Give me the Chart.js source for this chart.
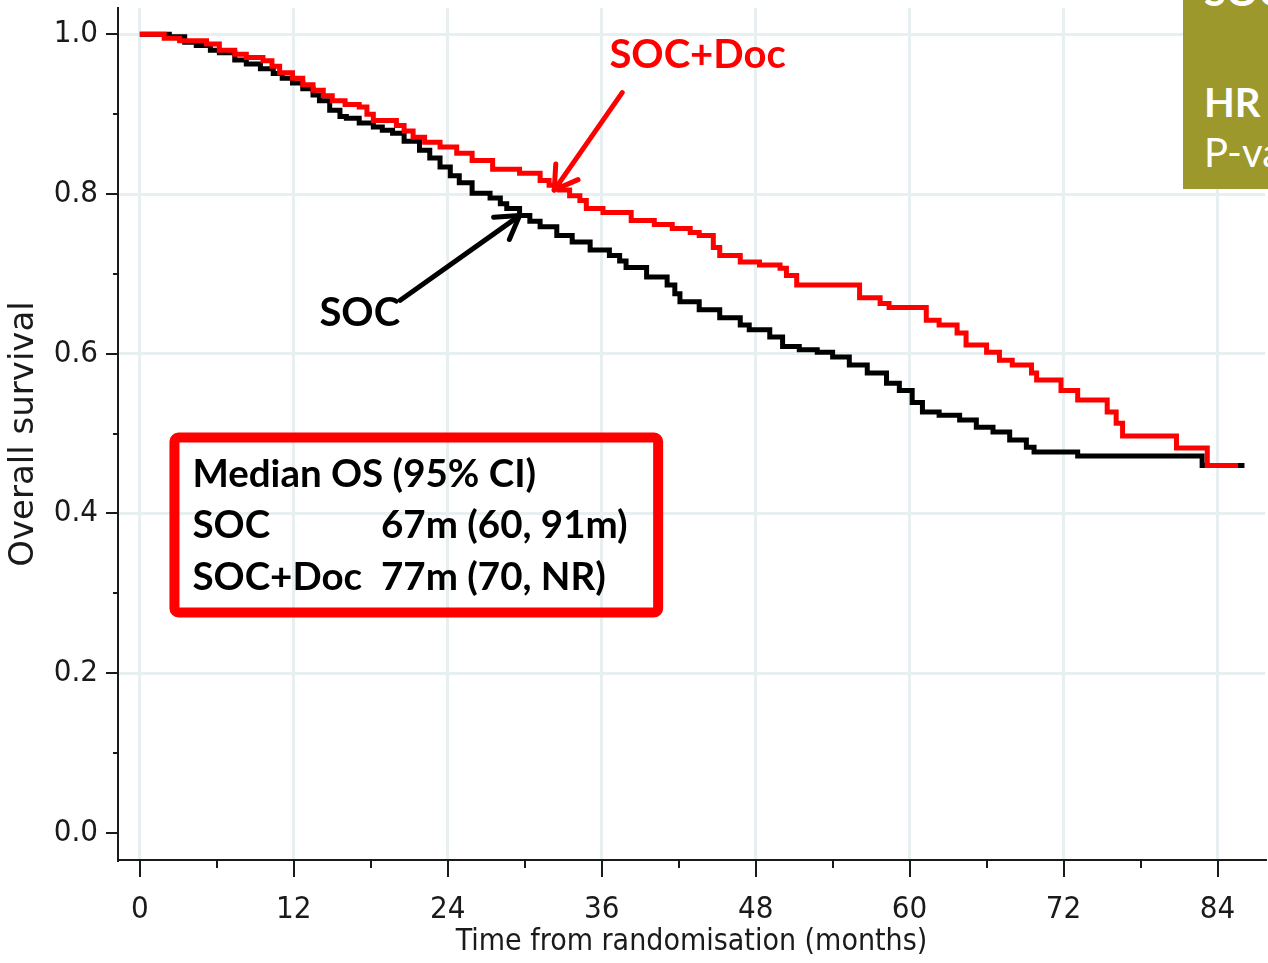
<!DOCTYPE html>
<html>
<head>
<meta charset="utf-8">
<script src="https://cdn.jsdelivr.net/npm/chart.js@4.4.1/dist/chart.umd.min.js"></script>
<style>
  html, body { margin: 0; padding: 0; background: #fff; }
  #wrap { position: relative; width: 1268px; height: 963px; overflow: hidden; }
  #hrbox { position: absolute; left: 1183px; top: 0; width: 85px; height: 189px;
           background: #9c982c; color: #fff; font-family: Lato, sans-serif; overflow: hidden; }
  #hrbox div { position: absolute; left: 21px; white-space: nowrap; font-size: 40px; line-height: 48px; }
</style>
</head>
<body>
<div id="wrap">
  <canvas id="km-chart" width="1268" height="963"></canvas>
  <div id="hrbox">
    <div style="top:-33px;font-weight:bold;">SOC+Doc vs SOC</div>
    <div style="top:78px;font-weight:bold;">HR (95% CI)</div>
    <div style="top:128px;">P-value</div>
  </div>
</div>
<script>
// Tempo (meses) e sobrevida - SOC (preto)
const socTime = [0, 2.3, 3.5, 4.4, 5.5, 6.2, 7.4, 8.3, 9.4, 10.4, 11.1, 11.9, 12.7, 13.5, 14.0,
  14.8, 15.6, 16.1, 17.1, 18.2, 18.9, 19.7, 20.6, 21.8, 22.6, 23.4, 24.2, 24.9, 25.9, 27.3,
  28.1, 28.6, 29.6, 30.4, 31.2, 32.5, 33.7, 35.1, 36.6, 37.4, 37.9, 39.5, 41.1, 41.7, 42.1,
  43.6, 45.2, 46.8, 47.5, 49.1, 50.1, 51.4, 52.8, 54.0, 55.3, 56.7, 58.2, 59.2, 60.2, 61.0,
  62.3, 63.9, 65.2, 66.5, 67.8, 69.1, 69.7, 73.1, 82.8, 86.1];
const socSurv = [1.0, 0.997, 0.99, 0.986, 0.98, 0.977, 0.968, 0.963, 0.957, 0.951, 0.945, 0.939, 0.932, 0.924, 0.917,
  0.905, 0.897, 0.895, 0.889, 0.884, 0.88, 0.876, 0.866, 0.855, 0.845, 0.834, 0.823, 0.814, 0.801, 0.795,
  0.788, 0.782, 0.773, 0.766, 0.759, 0.748, 0.74, 0.73, 0.723, 0.716, 0.708, 0.696, 0.686, 0.675, 0.665,
  0.655, 0.645, 0.636, 0.63, 0.621, 0.609, 0.605, 0.602, 0.596, 0.586, 0.576, 0.563, 0.554, 0.539, 0.527,
  0.523, 0.517, 0.508, 0.502, 0.492, 0.483, 0.477, 0.472, 0.46, 0.46];

// SOC+Doc (vermelho)
const docTime = [0, 1.9, 3.1, 5.2, 6.2, 7.4, 8.3, 9.6, 10.3, 10.9, 11.9, 12.7, 13.5, 14.3, 15.0,
  16.0, 17.1, 17.7, 18.2, 20.0, 20.6, 21.3, 22.2, 23.4, 24.7, 25.9, 27.5, 29.6, 31.2, 31.9,
  32.7, 33.5, 34.3, 34.8, 36.1, 38.3, 40.1, 41.5, 42.9, 43.6, 44.7, 45.2, 46.8, 48.3, 49.9,
  50.4, 51.2, 56.1, 57.7, 58.4, 61.3, 62.3, 63.7, 64.4, 66.0, 67.0, 68.0, 69.5, 69.9, 71.8,
  73.1, 75.4, 76.1, 76.6, 80.8, 83.2, 85.6];
const docSurv = [1.0, 0.995, 0.992, 0.988, 0.98, 0.975, 0.971, 0.967, 0.96, 0.952, 0.945, 0.937, 0.93, 0.923, 0.917,
  0.912, 0.909, 0.9, 0.892, 0.886, 0.879, 0.871, 0.865, 0.859, 0.851, 0.842, 0.831, 0.826, 0.817, 0.811,
  0.805, 0.798, 0.792, 0.782, 0.777, 0.767, 0.762, 0.757, 0.752, 0.748, 0.733, 0.723, 0.715, 0.711, 0.707,
  0.698, 0.686, 0.67, 0.663, 0.658, 0.642, 0.636, 0.626, 0.611, 0.602, 0.592, 0.586, 0.576, 0.567, 0.554,
  0.542, 0.527, 0.513, 0.497, 0.482, 0.46, 0.46];

// Marcas dos eixos (maiores com rótulo, menores sem)
const xTicks = [0, 6, 12, 18, 24, 30, 36, 42, 48, 54, 60, 66, 72, 78, 84];
const yTicks = [0, 0.1, 0.2, 0.3, 0.4, 0.5, 0.6, 0.7, 0.8, 0.9, 1.0];

// Textos da caixa de mediana
const medianRows = [
  ['Median OS (95% CI)', ''],
  ['SOC', '67m (60, 91m)'],
  ['SOC+Doc', '77m (70, NR)']
];

const GRID = '#e8eff1';
const AXIS = '#1a1a1a';
const isMajorX = v => v % 12 === 0;
const isMajorY = v => Math.round(v * 10) % 2 === 0;

function drawArrow(ctx, x0, y0, x1, y1, color) {
    const a = Math.atan2(y1 - y0, x1 - x0), h = 26, s = 0.55;
    ctx.save();
    ctx.strokeStyle = color;
    ctx.lineWidth = 5;
    ctx.lineCap = 'round';
    ctx.lineJoin = 'round';
    ctx.beginPath();
    ctx.moveTo(x0, y0);
    ctx.lineTo(x1, y1);
    ctx.stroke();
    ctx.beginPath();
    ctx.moveTo(x1 - h * Math.cos(a - s), y1 - h * Math.sin(a - s));
    ctx.lineTo(x1, y1);
    ctx.lineTo(x1 - h * Math.cos(a + s), y1 - h * Math.sin(a + s));
    ctx.stroke();
    ctx.restore();
}

// Plugin: marcas dos eixos, setas, rótulos e caixa de mediana
const kmExtras = {
    id: 'kmExtras',
    afterDraw(chart) {
        const { ctx } = chart;
        const x = chart.scales.x, y = chart.scales.y;
        const px = v => x.getPixelForValue(v), py = v => y.getPixelForValue(v);

        // marcas dos eixos
        ctx.save();
        ctx.strokeStyle = AXIS;
        ctx.lineWidth = 2;
        ctx.beginPath();
        xTicks.forEach(v => {
            const p = Math.round(px(v));
            ctx.moveTo(p, x.top);
            ctx.lineTo(p, x.top + (isMajorX(v) ? 17 : 8));
        });
        yTicks.forEach(v => {
            const p = Math.round(py(v));
            ctx.moveTo(y.right - (isMajorY(v) ? 12 : 5), p);
            ctx.lineTo(y.right, p);
        });
        ctx.stroke();
        ctx.restore();

        // setas
        drawArrow(ctx, px(37.6), py(0.927), px(32.3), py(0.805), '#ff0000');
        drawArrow(ctx, px(20.3), py(0.667), px(29.6), py(0.773), '#000000');

        // rótulos das curvas
        ctx.save();
        ctx.textBaseline = 'middle';
        ctx.textAlign = 'left';
        ctx.font = 'bold 40px Lato';
        ctx.fillStyle = '#ff0000';
        ctx.fillText('SOC+Doc', px(36.6), py(0.974));
        ctx.fillStyle = '#000000';
        ctx.fillText('SOC', px(14.0), py(0.651));

        // caixa da mediana
        const bx0 = px(2.7), bx1 = px(40.4), by0 = py(0.495), by1 = py(0.276);
        ctx.strokeStyle = '#ff0000';
        ctx.lineWidth = 10;
        ctx.lineJoin = 'round';
        ctx.beginPath();
        ctx.roundRect(bx0, by0, bx1 - bx0, by1 - by0, 4);
        ctx.stroke();

        ctx.fillStyle = '#000000';
        ctx.font = 'bold 38.5px Lato';
        const rowY = [0.449, 0.385, 0.320];
        medianRows.forEach((r, i) => {
            ctx.fillText(r[0], px(4.1), py(rowY[i]));
            if (r[1]) ctx.fillText(r[1], px(18.8), py(rowY[i]));
        });
        ctx.restore();
    }
};

const tickFont = { family: 'DejaVu Sans Condensed', size: 31 };

new Chart(document.getElementById('km-chart'), {
    type: 'line',
    data: {
        datasets: [{
            label: 'SOC+Doc',
            data: docTime.map((t, i) => ({ x: t, y: docSurv[i] })),
            borderColor: '#ff0000',
            borderWidth: 5,
            stepped: true,
            pointRadius: 0,
            fill: false
        }, {
            label: 'SOC',
            data: socTime.map((t, i) => ({ x: t, y: socSurv[i] })),
            borderColor: '#000000',
            borderWidth: 5,
            stepped: true,
            pointRadius: 0,
            fill: false
        }]
    },
    options: {
        responsive: false,
        animation: false,
        layout: { padding: { top: 8, right: 3, left: 0, bottom: 0 } },
        plugins: {
            legend: { display: false },
            tooltip: { enabled: false }
        },
        scales: {
            x: {
                type: 'linear',
                min: -1.7,
                max: 87.7,
                afterBuildTicks: s => { s.ticks = xTicks.map(v => ({ value: v })); },
                afterFit: s => { s.height = 103; s.paddingLeft = 0; s.paddingRight = 0; },
                grid: {
                    color: c => (c.tick && isMajorX(c.tick.value)) ? GRID : 'rgba(0,0,0,0)',
                    lineWidth: 3,
                    drawTicks: false
                },
                border: { color: AXIS, width: 2 },
                ticks: {
                    padding: 31,
                    autoSkip: false,
                    maxRotation: 0,
                    color: AXIS,
                    font: tickFont,
                    callback: v => isMajorX(v) ? String(v) : ''
                },
                title: {
                    display: true,
                    text: 'Time from randomisation (months)',
                    color: AXIS,
                    font: { family: 'DejaVu Sans Condensed', size: 30 },
                    padding: { top: 0, bottom: 3 }
                }
            },
            y: {
                type: 'linear',
                min: -0.034,
                max: 1.033,
                afterBuildTicks: s => { s.ticks = yTicks.map(v => ({ value: v })); },
                afterFit: s => { s.width = 118; s.paddingTop = 0; s.paddingBottom = 0; },
                grid: {
                    color: c => (c.tick && isMajorY(c.tick.value) && c.tick.value > 0) ? GRID : 'rgba(0,0,0,0)',
                    lineWidth: 3,
                    drawTicks: false
                },
                border: { color: AXIS, width: 2 },
                ticks: {
                    padding: 20,
                    autoSkip: false,
                    color: AXIS,
                    font: tickFont,
                    callback: v => isMajorY(v) ? v.toFixed(1) : ''
                },
                title: {
                    display: true,
                    text: 'Overall survival',
                    color: AXIS,
                    font: { family: 'DejaVu Sans', size: 34 },
                    padding: { top: 4, bottom: 0 }
                }
            }
        }
    },
    plugins: [kmExtras]
});
</script>
</body>
</html>
